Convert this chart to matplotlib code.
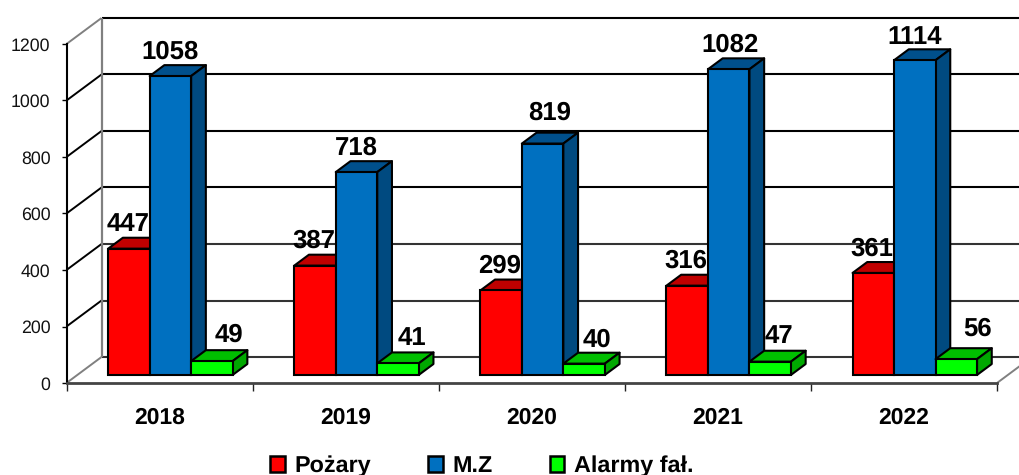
import matplotlib
matplotlib.use("Agg")
import matplotlib.pyplot as plt
from matplotlib.patches import Polygon, Patch

plt.rcParams['font.family'] = ['Liberation Sans', 'DejaVu Sans']
plt.rcParams['text.hinting'] = 'none'

years = ['2018', '2019', '2020', '2021', '2022']
pozary = [447, 387, 299, 316, 361]
mz = [1058, 718, 819, 1082, 1114]
alarmy = [49, 41, 40, 47, 56]
yticks = [0, 200, 400, 600, 800, 1000, 1200]

series = [
    ('Pożary', pozary, '#FF0000', '#C00000', '#900000'),
    ('M.Z', mz, '#0070C0', '#00508C', '#004A80'),
    ('Alarmy fał.', alarmy, '#00FF00', '#00BF00', '#00A800'),
]
# label offsets in pixels from front-top-centre of each bar
label_dx = [[-1, -1, -1, -1, -1], [0, 0, 7, 1, 0], [17, 14, 13, 9, 21]]
label_dy = [[27, 27, 27, 27, 27], [27, 27, 33, 27, 26], [29, 28, 26, 28, 33]]

W, H = 1020, 475
fig = plt.figure(figsize=(W / 100, H / 100), dpi=100, facecolor='white')
L, R, T, B = 66.5, 997.0, 44.0, 383.0
ax = fig.add_axes([L / W, 1 - B / H, (R - L) / W, (B - T) / H])
ax.set_xlim(0, 5)
ax.set_ylim(0, 1200)
ax.patch.set_visible(False)

PX = (R - L) / 5
PY = (B - T) / 1200
DX = 35 / PX
DY = 26 / PY
def proj(x, y, d):
    return x + d * DX, y + d * DY

FRONT, BACK = 0.31, 0.73
BW = 41.5 / PX
LW_PT = 1.5

def line(p, q, **kw):
    ax.plot([p[0], q[0]], [p[1], q[1]], clip_on=False, solid_capstyle='butt', **kw)

# walls and gridlines
for v in yticks:
    edge = '#808080' if v in (0, 1200) else 'black'
    line(proj(0, v, 0), proj(0, v, 1), color=edge, lw=1.4, zorder=1)
    col = '#333333' if v in (0, 200, 400) else 'black'
    line(proj(0, v, 1), proj(5, v, 1), color=col, lw=1.5, zorder=1)
line(proj(0, 0, 1), proj(0, 1200, 1), color='#808080', lw=1.6, zorder=1)
line(proj(5, 0, 0), proj(5, 0, 1), color='#808080', lw=1.4, zorder=1)

# bars, drawn left to right so each one hides its neighbour's side
z = 3
for i in range(len(years)):
    for k, (name, vals, front, top, side) in enumerate(series):
        v = vals[i]
        xc = i + 0.5 + (k - 1) * BW
        x0, x1 = xc - BW / 2, xc + BW / 2
        fx, fy = proj(xc, 0, FRONT)
        ax.bar(fx, v, width=BW, bottom=fy, color=front, edgecolor='black',
               linewidth=LW_PT, zorder=z + 2, clip_on=False)
        ax.add_patch(Polygon([proj(x0, v, FRONT), proj(x1, v, FRONT),
                              proj(x1, v, BACK), proj(x0, v, BACK)],
                             closed=True, facecolor=top, edgecolor='black', lw=LW_PT,
                             zorder=z, clip_on=False, joinstyle='round'))
        ax.add_patch(Polygon([proj(x1, 0, FRONT), proj(x1, v, FRONT),
                              proj(x1, v, BACK), proj(x1, 0, BACK)],
                             closed=True, facecolor=side, edgecolor='black', lw=LW_PT,
                             zorder=z + 1, clip_on=False, joinstyle='round'))
        z += 3

# data labels
for k, (name, vals, *_ ) in enumerate(series):
    for i, v in enumerate(vals):
        xc = i + 0.5 + (k - 1) * BW
        fx, fy = proj(xc, 0, FRONT)
        ax.annotate(str(v), xy=(fx, fy + v),
                    xytext=(label_dx[k][i] * 0.72, label_dy[k][i] * 0.72),
                    textcoords='offset points', ha='center', va='center_baseline',
                    fontsize=18.5, fontweight='bold', color='black',
                    zorder=500, annotation_clip=False)

# axes
for s in ('top', 'right'):
    ax.spines[s].set_visible(False)
ax.spines['left'].set_linewidth(1.5)
ax.spines['left'].set_color('black')
ax.spines['bottom'].set_linewidth(2.0)
ax.spines['bottom'].set_color('#444444')
ax.spines['left'].set_zorder(400)
ax.spines['bottom'].set_zorder(400)
ax.set_yticks(yticks)
ax.set_yticklabels([str(v) for v in yticks], fontsize=12.8, color='#111111')
ax.tick_params(axis='y', length=3.6, width=1.0, pad=8)
ax.set_xticks(range(6))
ax.set_xticklabels([])
ax.tick_params(axis='x', which='major', length=5.8, width=1.0, color='#222222')
ax.set_xticks([i + 0.5 for i in range(5)], minor=True)
ax.set_xticklabels(years, minor=True, fontsize=16.5, fontweight='bold')
ax.tick_params(axis='x', which='minor', length=0, pad=17)

# legend
handles = [Patch(facecolor=s[2], edgecolor='black', linewidth=1.8, label=s[0]) for s in series]
fig.legend(handles=handles, loc='center', bbox_to_anchor=(482 / W, 1 - 466 / H),
           ncol=3, frameon=False, prop={'size': 16.8, 'weight': 'bold'},
           handlelength=0.62, handleheight=0.66, handletextpad=0.42, columnspacing=2.45,
           borderpad=0, borderaxespad=0)

fig.savefig('out.png', dpi=100, facecolor='white')
